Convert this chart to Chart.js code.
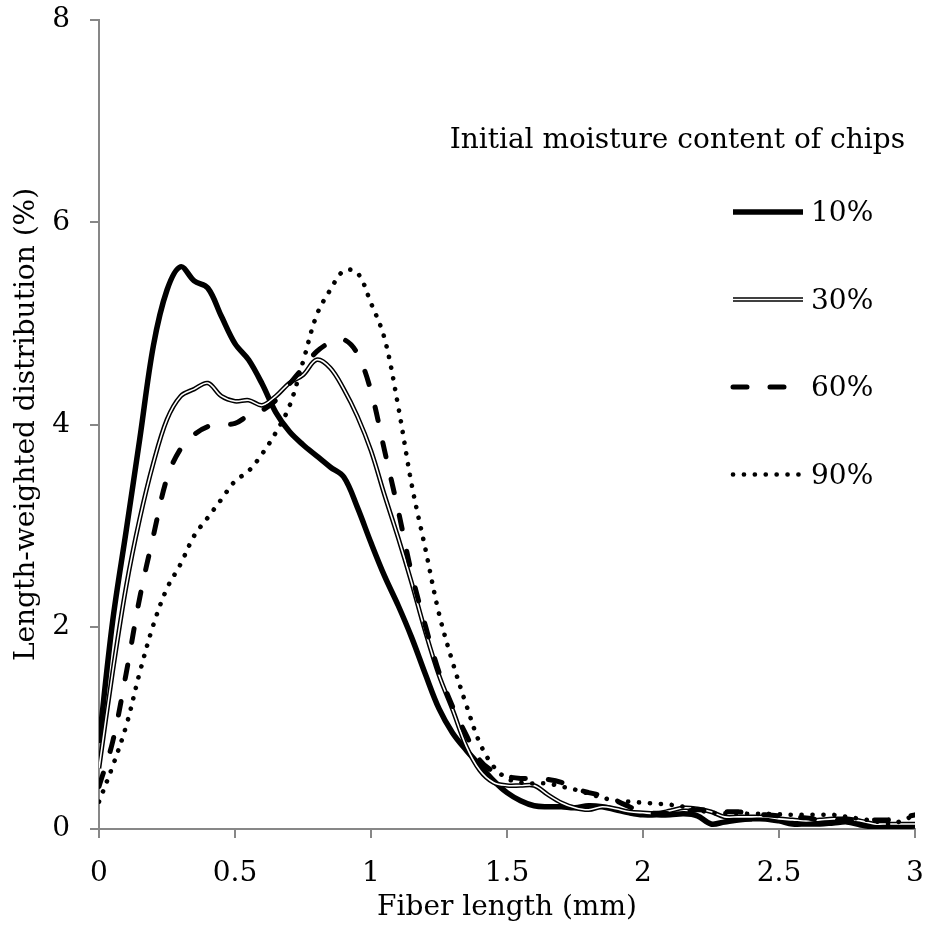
<!DOCTYPE html>
<html>
<head>
<meta charset="utf-8">
<script src="https://cdn.jsdelivr.net/npm/chart.js@4.4.1/dist/chart.umd.min.js"></script>
<style>
  html, body { margin: 0; padding: 0; background: #fff; }
</style>
</head>
<body>
<canvas id="fiberChart" width="929" height="941"></canvas>
<script>
// Length-weighted fiber length distribution by initial chip moisture

const fiberLength = [0, 0.05, 0.1, 0.15, 0.2, 0.25, 0.3, 0.35, 0.4, 0.45, 0.5, 0.55, 0.6, 0.65, 0.7, 0.75, 0.8, 0.85, 0.9, 0.95,
  1, 1.05, 1.1, 1.15, 1.2, 1.25, 1.3, 1.35, 1.4, 1.45, 1.5, 1.55, 1.6, 1.65, 1.7, 1.75, 1.8, 1.85, 1.9, 1.95,
  2, 2.05, 2.1, 2.15, 2.2, 2.25, 2.3, 2.35, 2.4, 2.45, 2.5, 2.55, 2.6, 2.65, 2.7, 2.75, 2.8, 2.85, 2.9, 2.95, 3];

const mc10 = [0.85, 2.05, 2.95, 3.86, 4.78, 5.33, 5.56, 5.42, 5.35, 5.07, 4.80, 4.64, 4.40, 4.12, 3.93, 3.80, 3.69, 3.58, 3.48, 3.18,
  2.83, 2.50, 2.21, 1.89, 1.53, 1.19, 0.95, 0.78, 0.63, 0.48, 0.36, 0.28, 0.23, 0.22, 0.22, 0.21, 0.23, 0.22, 0.19, 0.16,
  0.14, 0.14, 0.14, 0.15, 0.13, 0.05, 0.07, 0.09, 0.10, 0.10, 0.08, 0.05, 0.05, 0.05, 0.06, 0.07, 0.04, 0.02, 0.02, 0.02, 0.03];

const mc30 = [0.60, 1.55, 2.40, 3.07, 3.62, 4.05, 4.28, 4.35, 4.41, 4.28, 4.23, 4.24, 4.19, 4.28, 4.41, 4.49, 4.64, 4.56, 4.35, 4.08,
  3.74, 3.30, 2.88, 2.43, 1.95, 1.52, 1.18, 0.82, 0.58, 0.46, 0.43, 0.43, 0.43, 0.34, 0.26, 0.21, 0.19, 0.22, 0.20, 0.17,
  0.16, 0.155, 0.18, 0.21, 0.20, 0.17, 0.12, 0.12, 0.12, 0.12, 0.10, 0.09, 0.08, 0.09, 0.10, 0.10, 0.08, 0.05, 0.05, 0.05, 0.05];

const mc60 = [0.42, 0.86, 1.54, 2.29, 2.90, 3.47, 3.76, 3.90, 3.98, 4.00, 4.01, 4.09, 4.14, 4.24, 4.40, 4.56, 4.72, 4.81, 4.84, 4.70,
  4.33, 3.74, 3.15, 2.52, 2.01, 1.55, 1.21, 0.93, 0.68, 0.57, 0.52, 0.50, 0.50, 0.49, 0.46, 0.40, 0.36, 0.33, 0.28, 0.22,
  0.16, 0.155, 0.155, 0.17, 0.19, 0.18, 0.17, 0.17, 0.15, 0.14, 0.13, 0.12, 0.11, 0.09, 0.09, 0.09, 0.09, 0.09, 0.09, 0.11, 0.14];

const mc90 = [0.27, 0.62, 1.02, 1.55, 2.02, 2.38, 2.62, 2.90, 3.08, 3.26, 3.44, 3.54, 3.71, 3.92, 4.18, 4.62, 5.08, 5.33, 5.52, 5.50,
  5.20, 4.85, 4.18, 3.40, 2.77, 2.13, 1.65, 1.23, 0.85, 0.62, 0.50, 0.46, 0.45, 0.45, 0.42, 0.39, 0.35, 0.31, 0.28, 0.27,
  0.26, 0.25, 0.24, 0.22, 0.19, 0.16, 0.155, 0.155, 0.15, 0.15, 0.145, 0.14, 0.14, 0.14, 0.14, 0.12, 0.10, 0.08, 0.05, 0.08, 0.14];

const seriesLabels = ['10%', '30%', '60%', '90%'];
const legendTitle = 'Initial moisture content of chips';
const xTicks = [0, 0.5, 1, 1.5, 2, 2.5, 3];
const yTicks = [0, 2, 4, 6, 8];

const FONT = 'DejaVu Serif';
const FONT_SIZE = 28;
const AXIS_GREY = '#878787';

function toPoints(ys) {
  return fiberLength.map((x, i) => ({ x: x, y: ys[i] }));
}

const lineBase = { pointRadius: 0, pointHoverRadius: 0, fill: false, tension: 0.35, borderColor: '#000' };

const datasets = [
  { ...lineBase, label: seriesLabels[3], data: toPoints(mc90), borderWidth: 4.6, borderDash: [0.1, 10.8], borderCapStyle: 'round', order: 0 },
  { ...lineBase, label: seriesLabels[2], data: toPoints(mc60), borderWidth: 5, borderDash: [14, 23], borderCapStyle: 'round', order: 1 },
  { ...lineBase, label: seriesLabels[1] + ' inner', data: toPoints(mc30), borderWidth: 1.6, borderColor: '#fff', order: 2 },
  { ...lineBase, label: seriesLabels[1], data: toPoints(mc30), borderWidth: 4.6, order: 3 },
  { ...lineBase, label: seriesLabels[0], data: toPoints(mc10), borderWidth: 5.5, order: 4 }
];

// legend drawn inside the plot area, styled from the datasets themselves
const insideLegend = {
  id: 'insideLegend',
  afterDatasetsDraw(chart) {
    const { ctx, chartArea } = chart;
    ctx.save();
    ctx.fillStyle = '#000';
    ctx.font = FONT_SIZE + 'px "' + FONT + '"';
    ctx.textBaseline = 'middle';
    ctx.textAlign = 'right';
    ctx.fillText(legendTitle, chartArea.right - 10, chartArea.top + 121);
    ctx.textAlign = 'left';
    seriesLabels.forEach((lab, i) => {
      const y = chartArea.top + 192 + i * 87.5;
      const x0 = chartArea.right - 182, x1 = chartArea.right - 112;
      chart.data.datasets.filter(d => d.label === lab || d.label === lab + ' inner')
        .sort((a, b) => b.order - a.order)
        .forEach(d => {
          ctx.beginPath();
          ctx.strokeStyle = d.borderColor;
          ctx.lineWidth = d.borderWidth;
          ctx.lineCap = d.borderCapStyle || 'butt';
          ctx.setLineDash(d.borderDash || []);
          ctx.moveTo(x0, y);
          ctx.lineTo(x1, y);
          ctx.stroke();
        });
      ctx.setLineDash([]);
      ctx.fillText(lab, chartArea.right - 104, y + 2);
    });
    ctx.restore();
  }
};

new Chart(document.getElementById('fiberChart'), {
  type: 'line',
  data: { datasets: datasets },
  plugins: [insideLegend],
  options: {
    responsive: false,
    animation: false,
    layout: { padding: { top: 20, right: 14, left: 0, bottom: 0 } },
    plugins: { legend: { display: false }, tooltip: { enabled: false } },
    scales: {
      x: {
        type: 'linear', min: 0, max: 3,
        afterBuildTicks: s => { s.ticks = xTicks.map(v => ({ value: v })); },
        afterFit: s => { s.height = 112; s.paddingLeft = 0; s.paddingRight = 0; },
        ticks: { color: '#000', padding: 19, maxRotation: 0, font: { family: FONT, size: FONT_SIZE }, callback: v => String(v) },
        grid: { drawOnChartArea: false, drawTicks: true, tickLength: 9, color: AXIS_GREY, lineWidth: 2 },
        border: { display: true, color: AXIS_GREY, width: 2 },
        title: { display: true, text: 'Fiber length (mm)', color: '#000', font: { family: FONT, size: FONT_SIZE }, padding: { top: 0, bottom: 16 } }
      },
      y: {
        type: 'linear', min: 0, max: 8,
        afterBuildTicks: s => { s.ticks = yTicks.map(v => ({ value: v })); },
        afterFit: s => { s.width = 99; s.paddingTop = 0; s.paddingBottom = 0; },
        ticks: { color: '#000', padding: 20, font: { family: FONT, size: FONT_SIZE }, callback: v => String(v) },
        grid: { drawOnChartArea: false, drawTicks: true, tickLength: 9, color: AXIS_GREY, lineWidth: 2 },
        border: { display: true, color: AXIS_GREY, width: 2 },
        title: { display: true, text: 'Length-weighted distribution (%)', color: '#000', font: { family: FONT, size: FONT_SIZE }, padding: { top: 10, bottom: 0 } }
      }
    }
  }
});
</script>
</body>
</html>
